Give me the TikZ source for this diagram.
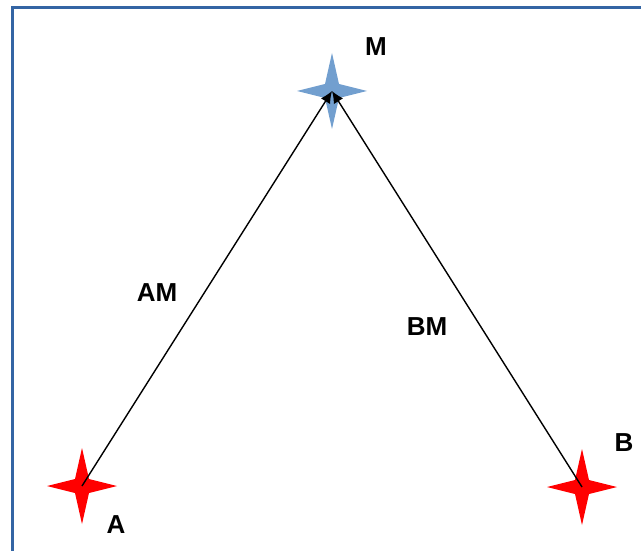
\documentclass[tikz,border=0pt]{standalone}
\usepackage{fontspec}
\setmainfont{Liberation Sans}
\usepackage{tikz}
\usetikzlibrary{arrows.meta,positioning,calc}
\definecolor{frameblue}{RGB}{52,101,164}
\definecolor{skyblue}{RGB}{114,159,207}

\begin{document}
\begin{tikzpicture}[x=1pt,y=-1pt,font=\fontsize{26}{30}\selectfont\bfseries,
  lbl/.style={inner sep=0pt}]
  \useasboundingbox (0,0) rectangle (641,551);
  \draw[frameblue,line width=3pt] (12.5,560) -- (12.5,7.5) -- (650,7.5);
  \coordinate (A) at (82,486);
  \coordinate (B) at (582,487);
  \coordinate (M) at (332,91);
  \foreach \p/\c in {A/red,B/red,M/skyblue}
    \fill[\c,shift={(\p)}] (0,-38) -- (7,-7) -- (35,0) -- (7,7) -- (0,38) -- (-7,7) -- (-35,0) -- (-7,-7) -- cycle;
  \draw[line width=1.4pt,-{Latex[length=12pt,width=11pt]}] (A) -- (M);
  \draw[line width=1.4pt,-{Latex[length=12pt,width=11pt]}] (B) -- (M);
  \node[lbl] (lM) at (376,47) {M};
  \node[lbl] (lA) at (116,525) {A};
  \node[lbl] (lB) at (624,443) {B};
  \node[lbl] (lAM) at (157,293) {AM};
  \node[lbl] (lBM) at (427,327) {BM};
\end{tikzpicture}
\end{document}
